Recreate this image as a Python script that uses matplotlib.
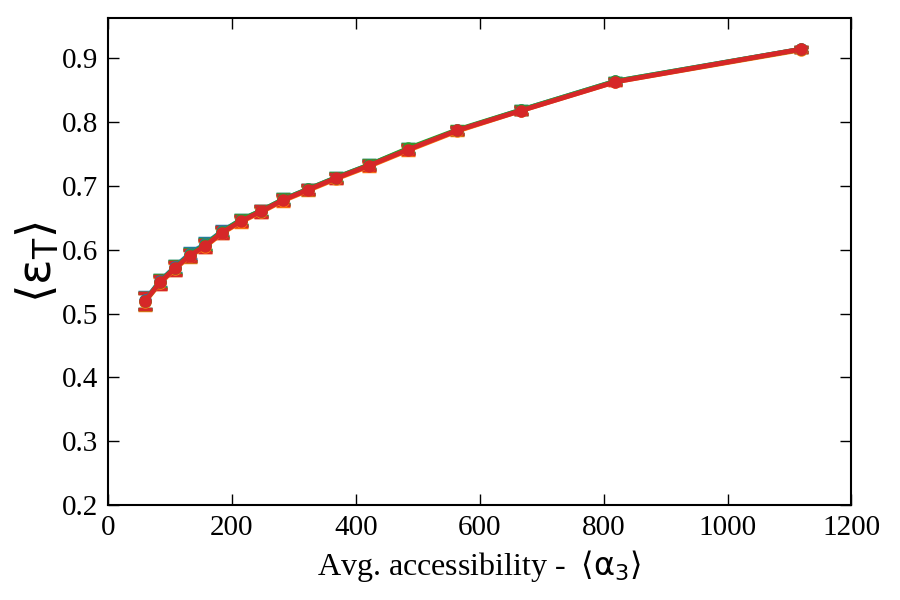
import matplotlib
matplotlib.use('Agg')
import matplotlib.pyplot as plt

# data
x = [60, 84, 108, 132, 157, 184, 215, 247, 283, 323, 368, 422, 485, 564, 667, 819, 1118]

y_blue = [0.521, 0.551, 0.573, 0.594, 0.609, 0.629, 0.647, 0.661, 0.679, 0.695, 0.713, 0.733, 0.758, 0.787, 0.819, 0.864, 0.914]
y_orange = [0.519, 0.548, 0.570, 0.590, 0.605, 0.626, 0.644, 0.659, 0.677, 0.693, 0.711, 0.731, 0.756, 0.786, 0.818, 0.863, 0.913]
y_green = [0.520, 0.550, 0.572, 0.592, 0.608, 0.628, 0.647, 0.661, 0.679, 0.695, 0.713, 0.733, 0.759, 0.788, 0.819, 0.864, 0.914]
y_red = [0.520, 0.549, 0.571, 0.591, 0.606, 0.627, 0.645, 0.660, 0.678, 0.694, 0.712, 0.732, 0.757, 0.787, 0.818, 0.863, 0.914]

err = [0.013, 0.010, 0.010, 0.009, 0.009, 0.008, 0.008, 0.008, 0.008, 0.007, 0.007, 0.007, 0.007, 0.006, 0.006, 0.005, 0.004]

series = [y_blue, y_orange, y_green, y_red]
colors = ['#1f77b4', '#ff7f0e', '#2ca02c', '#d62728']

plt.rcParams['font.family'] = ['Liberation Serif', 'DejaVu Serif']
plt.rcParams['mathtext.fontset'] = 'dejavusans'

fig = plt.figure(figsize=(9, 6), dpi=100)
ax = fig.add_axes([0.12, 0.158, 0.826, 0.812])

for ys, c in zip(series, colors):
    ax.errorbar(x, ys, yerr=err, fmt='-o', color=c, lw=3.5, ms=8,
                capsize=5, capthick=2.5, elinewidth=2)

ax.set_xlim(0, 1200)
ax.set_ylim(0.2, 0.963)
ax.set_xticks([0, 200, 400, 600, 800, 1000, 1200])
ax.set_yticks([0.2, 0.3, 0.4, 0.5, 0.6, 0.7, 0.8, 0.9])
ax.tick_params(direction='in', length=8, width=1, top=True, right=True,
               labelsize=21, pad=7)
for s in ax.spines.values():
    s.set_linewidth(1.5)

ax.set_xlabel(r'Avg. accessibility -  $\langle \mathrm{\alpha}_{\mathrm{3}} \rangle$', fontsize=23, labelpad=5)
ax.set_ylabel(r'$\langle \mathrm{\varepsilon}_{\mathrm{T}} \rangle$', fontsize=34, labelpad=0)

fig.savefig('out.png', dpi=100)
